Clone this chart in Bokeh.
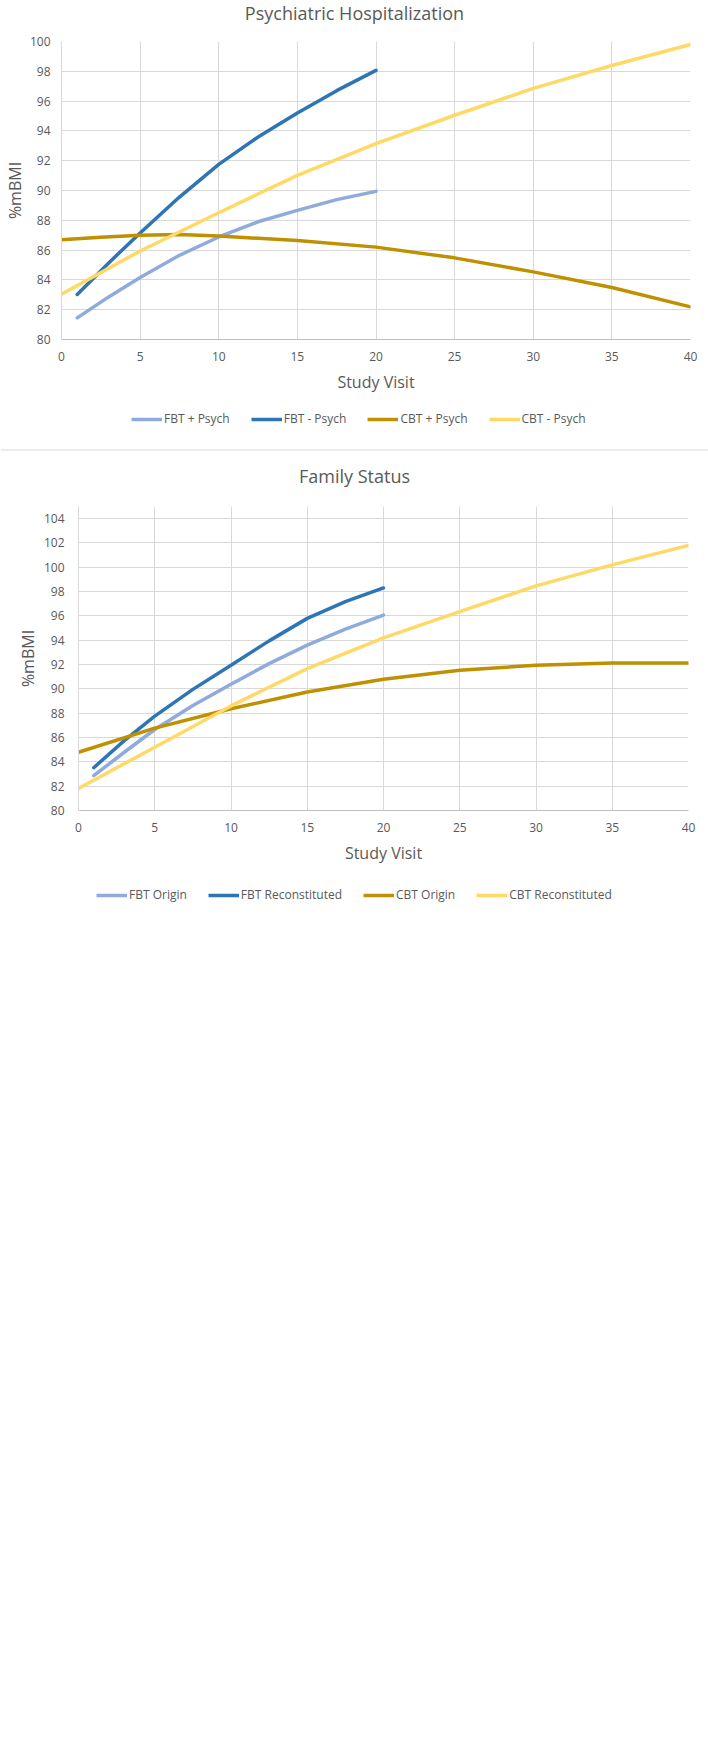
from bokeh.plotting import figure
from bokeh.models import Legend, LegendItem, Label, Span, FixedTicker
from bokeh.embed import file_html
from bokeh.resources import INLINE

# ---------------- Chart 1: Psychiatric Hospitalization ----------------
fbt_visits = [1, 3, 5, 7.5, 10, 12.5, 15, 17.5, 20]
fbt_plus_psych = [81.45, 82.86, 84.16, 85.65, 86.88, 87.90, 88.67, 89.39, 89.94]
fbt_minus_psych = [83.02, 85.14, 87.15, 89.56, 91.75, 93.59, 95.20, 96.70, 98.06]

cbt_plus_visits = [0, 2.5, 5, 7.5, 10, 15, 20, 25, 30, 35, 40]
cbt_plus_psych = [86.70, 86.87, 86.99, 87.04, 86.95, 86.64, 86.20, 85.48, 84.54, 83.49, 82.19]
cbt_visits = [0, 5, 10, 15, 20, 25, 30, 35, 40]
cbt_minus_psych = [83.04, 85.94, 88.51, 91.02, 93.14, 95.05, 96.85, 98.39, 99.80]

# ---------------- Chart 2: Family Status ----------------
fbt_origin = [82.86, 84.79, 86.66, 88.64, 90.38, 92.08, 93.60, 94.92, 96.07]
fbt_reconstituted = [83.52, 85.75, 87.76, 89.96, 91.95, 93.95, 95.80, 97.18, 98.30]
cbt_origin = [84.79, 86.77, 88.37, 89.74, 90.79, 91.53, 91.95, 92.14, 92.14]
cbt_reconstituted = [81.82, 85.20, 88.60, 91.67, 94.20, 96.35, 98.47, 100.20, 101.80]

x_ticks = [0, 5, 10, 15, 20, 25, 30, 35, 40]
y_ticks_1 = [80, 82, 84, 86, 88, 90, 92, 94, 96, 98, 100]
y_ticks_2 = [80, 82, 84, 86, 88, 90, 92, 94, 96, 98, 100, 102, 104]

titles = ["Psychiatric Hospitalization", "Family Status"]
labels_1 = ["FBT + Psych", "FBT - Psych", "CBT + Psych", "CBT - Psych"]
labels_2 = ["FBT Origin", "FBT Reconstituted", "CBT Origin", "CBT Reconstituted"]

C_LIGHT = "#8FAADC"
C_DARK = "#2E75B6"
C_GOLD = "#BF9000"
C_YELLOW = "#FFD966"
COLORS = [C_LIGHT, C_DARK, C_GOLD, C_YELLOW]
TEXT = "#595959"
GRID = "#D9D9D9"
FONT = "Open Sans"
W = 708
LW = 3.5


def chart(height, y_end, y_ticks, left, right, top, bottom, y_standoff, y_label_standoff):
    p = figure(width=W, height=height, x_range=(0, 40), y_range=(80, y_end),
               output_backend="svg", toolbar_location=None,
               min_border_left=left, min_border_right=right,
               min_border_top=top, min_border_bottom=bottom)
    p.outline_line_color = None
    p.xaxis.ticker = FixedTicker(ticks=x_ticks)
    p.yaxis.ticker = FixedTicker(ticks=y_ticks)
    for ax in (p.xaxis, p.yaxis):
        ax.major_tick_line_color = None
        ax.minor_tick_line_color = None
        ax.major_tick_out = 0
        ax.minor_tick_out = 0
        ax.major_label_text_font = FONT
        ax.major_label_text_font_size = "12px"
        ax.major_label_text_color = TEXT
        ax.axis_label_text_font = FONT
        ax.axis_label_text_font_size = "16px"
        ax.axis_label_text_font_style = "normal"
        ax.axis_label_text_color = TEXT
    p.xaxis.major_label_standoff = 12
    p.xaxis.axis_label = "Study Visit"
    p.xaxis.axis_label_standoff = 7
    p.yaxis.major_label_standoff = y_standoff
    p.yaxis.axis_label = "%mBMI"
    p.yaxis.axis_label_standoff = y_label_standoff
    p.xaxis.axis_line_color = "#BFBFBF"
    p.yaxis.axis_line_color = GRID
    p.xgrid.grid_line_color = GRID
    p.ygrid.grid_line_color = GRID
    return p


def strip(height):
    s = figure(width=W, height=height, x_range=(0, W), y_range=(0, height),
               x_axis_type=None, y_axis_type=None, output_backend="svg",
               toolbar_location=None, min_border=0)
    s.outline_line_color = None
    return s


def title_label(s, text, y):
    s.add_layout(Label(x=354, y=y, text=text, text_align="center", text_baseline="middle",
                       text_font=FONT, text_font_size="18px", text_color=TEXT))


def legend(s, labels, x, y):
    items = []
    for lab, col in zip(labels, COLORS):
        # legend key only: placed outside the visible range
        r = s.line(x=[-50, -40], y=[-50, -50], line_color=col, line_width=LW)
        items.append(LegendItem(label=lab, renderers=[r]))
    s.add_layout(Legend(items=items, orientation="horizontal", location=(x, y),
                        border_line_color=None, background_fill_alpha=0,
                        padding=0, margin=0, spacing=21, glyph_width=31, glyph_height=12,
                        label_height=12, label_standoff=2,
                        label_text_font=FONT, label_text_font_size="12px",
                        label_text_color=TEXT))


# page y 0..24 : title of chart 1
top_strip = strip(24)
title_label(top_strip, titles[0], 12)

# chart 1, frame x 61..690, y 41..339
p1 = chart(376, 100, y_ticks_1, left=61, right=18, top=17, bottom=61,
           y_standoff=11, y_label_standoff=1)
p1.line(fbt_visits, fbt_plus_psych, line_color=C_LIGHT, line_width=LW, line_cap="round", line_join="round")
p1.line(fbt_visits, fbt_minus_psych, line_color=C_DARK, line_width=LW, line_cap="round", line_join="round")
p1.line(cbt_plus_visits, cbt_plus_psych, line_color=C_GOLD, line_width=LW, line_cap="round", line_join="round")
p1.line(cbt_visits, cbt_minus_psych, line_color=C_YELLOW, line_width=LW, line_cap="round", line_join="round")

# legend 1, divider, title of chart 2
mid = strip(100)
legend(mid, labels_1, 131, 73)
mid.add_layout(Span(location=50.5, dimension="width", line_color=GRID, line_width=1))
title_label(mid, titles[1], 25)

# chart 2, frame x 78..688, y 506..810
p2 = chart(370, 105, y_ticks_2, left=78, right=20, top=6, bottom=60,
           y_standoff=14, y_label_standoff=2)
p2.line(fbt_visits, fbt_origin, line_color=C_LIGHT, line_width=LW, line_cap="round", line_join="round")
p2.line(fbt_visits, fbt_reconstituted, line_color=C_DARK, line_width=LW, line_cap="round", line_join="round")
p2.line(cbt_visits, cbt_origin, line_color=C_GOLD, line_width=LW, line_cap="round", line_join="round")
p2.line(cbt_visits, cbt_reconstituted, line_color=C_YELLOW, line_width=LW, line_cap="round", line_join="round")

# legend 2
bottom_strip = strip(50)
legend(bottom_strip, labels_2, 96, 17)

open("out.html", "w").write(file_html([top_strip, p1, mid, p2, bottom_strip], INLINE))
